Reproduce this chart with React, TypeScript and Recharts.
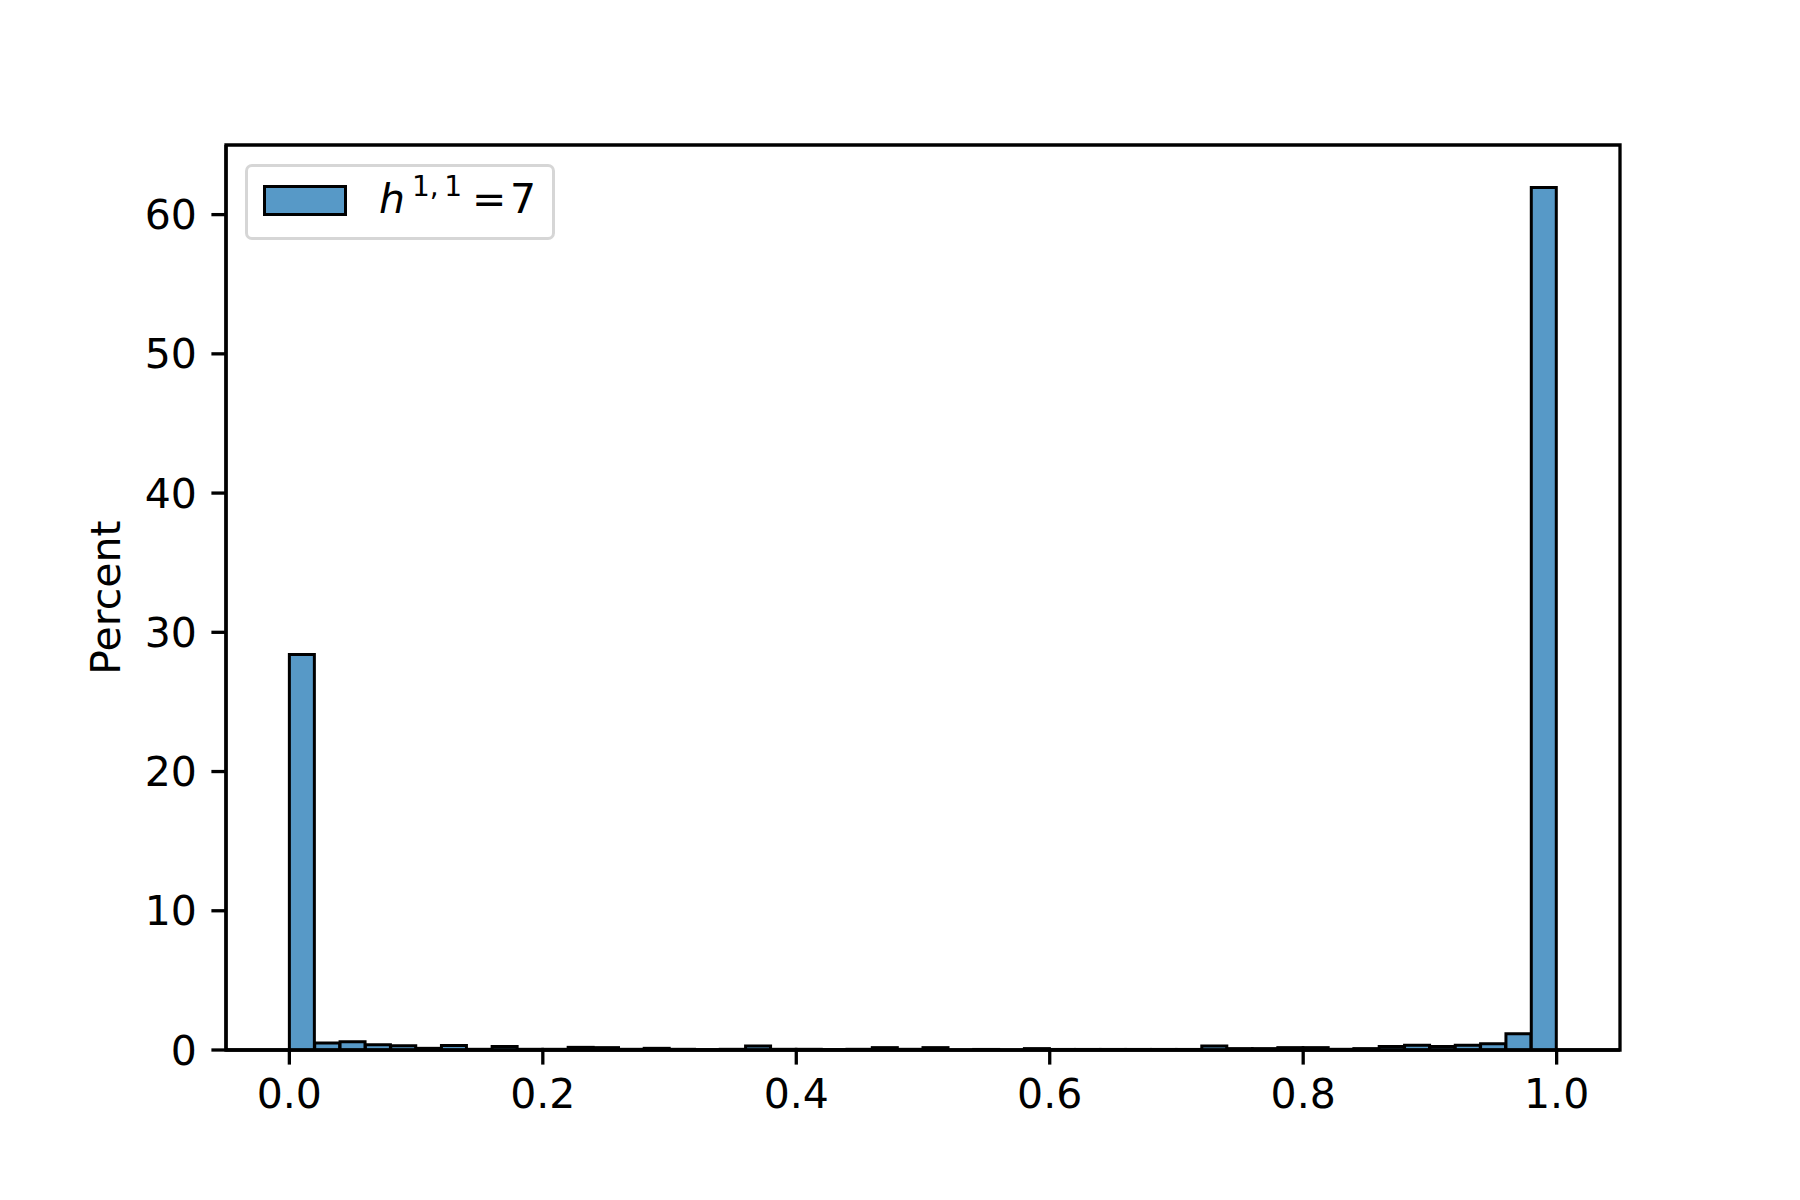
import { BarChart, Bar, XAxis, YAxis, ReferenceArea, Legend } from 'recharts';

// histogram bins, 0.02 wide, keyed by bin centre
const binCenters = [
  0.01, 0.03, 0.05, 0.07, 0.09, 0.11, 0.13, 0.15, 0.17, 0.19,
  0.21, 0.23, 0.25, 0.27, 0.29, 0.31, 0.33, 0.35, 0.37, 0.39,
  0.41, 0.43, 0.45, 0.47, 0.49, 0.51, 0.53, 0.55, 0.57, 0.59,
  0.61, 0.63, 0.65, 0.67, 0.69, 0.71, 0.73, 0.75, 0.77, 0.79,
  0.81, 0.83, 0.85, 0.87, 0.89, 0.91, 0.93, 0.95, 0.97, 0.99,
];

const percents = [
  28.4, 0.5, 0.6, 0.38, 0.31, 0.12, 0.33, 0.05, 0.26, 0.05,
  0.05, 0.19, 0.17, 0.05, 0.12, 0.05, 0.02, 0.05, 0.29, 0.05,
  0.05, 0.03, 0.05, 0.17, 0.05, 0.17, 0, 0.04, 0, 0.1,
  0.04, 0.04, 0.04, 0.04, 0.04, 0.04, 0.28, 0.1, 0.1, 0.17,
  0.17, 0.05, 0.1, 0.25, 0.35, 0.26, 0.35, 0.45, 1.17, 61.95,
];

const xTicks = [0, 0.2, 0.4, 0.6, 0.8, 1.0];
const yTicks = [0, 10, 20, 30, 40, 50, 60];

const data = binCenters.map((x, i) => ({ x, pct: percents[i] }));

const W = 1800;
const H = 1200;
const LEFT = 226;
const RIGHT = 180;
const TOP = 145;
const XAXIS_H = 150;

const font = 'DejaVu Sans, sans-serif';
const fs = 41;
const lw = 3.3;

function LegendBox() {
  return (
    <div
      style={{
        width: 304,
        height: 70,
        border: '3px solid #d6d6d6',
        borderRadius: 7,
        background: '#fff',
        position: 'relative',
        fontFamily: font,
        fontSize: fs,
        color: '#000',
      }}
    >
      <div
        style={{
          position: 'absolute',
          left: 15,
          top: 18,
          width: 78,
          height: 25,
          background: '#5799c7',
          border: '3px solid #000',
        }}
      />
      <span style={{ position: 'absolute', left: 131, top: 12, lineHeight: '41px', fontStyle: 'italic' }}>h</span>
      <span style={{ position: 'absolute', left: 164, top: 5, lineHeight: '29px', fontSize: 28, whiteSpace: 'nowrap' }}>
        1,&#8201;1
      </span>
      <span style={{ position: 'absolute', left: 224, top: 12, lineHeight: '41px' }}>=</span>
      <span style={{ position: 'absolute', left: 262, top: 12, lineHeight: '41px' }}>7</span>
    </div>
  );
}

export default function App() {
  return (
    <div style={{ position: 'absolute', left: 0, top: 0, width: W, height: H, background: '#fff' }}>
      <BarChart
        width={W}
        height={H}
        data={data}
        margin={{ top: TOP, right: RIGHT, bottom: 0, left: 0 }}
        barCategoryGap={0}
        barGap={0}
      >
        <XAxis
          dataKey="x"
          type="number"
          domain={[-0.05, 1.05]}
          ticks={xTicks}
          tickFormatter={(v: number) => v.toFixed(1)}
          allowDataOverflow
          height={XAXIS_H}
          axisLine={{ stroke: '#000', strokeWidth: lw }}
          tickLine={{ stroke: '#000', strokeWidth: lw }}
          tickSize={14.6}
          tickMargin={14.6}
          tick={{ fill: '#000', fontSize: fs, fontFamily: font }}
        />
        <YAxis
          type="number"
          domain={[0, 65]}
          ticks={yTicks}
          allowDataOverflow
          width={LEFT}
          axisLine={{ stroke: '#000', strokeWidth: lw }}
          tickLine={{ stroke: '#000', strokeWidth: lw }}
          tickSize={14.6}
          tickMargin={14.6}
          tick={{ fill: '#000', fontSize: fs, fontFamily: font }}
          label={{
            value: 'Percent',
            angle: -90,
            position: 'center',
            dx: -8,
            style: { fill: '#000', fontSize: fs, fontFamily: font },
          }}
        />
        <Bar
          dataKey="pct"
          fill="#5799c7"
          stroke="#000"
          strokeWidth={3}
          isAnimationActive={false}
        />
        <ReferenceArea
          x1={-0.05}
          x2={1.05}
          y1={0}
          y2={65}
          fill="none"
          fillOpacity={0}
          stroke="#000"
          strokeWidth={lw}
          ifOverflow="visible"
        />
        <Legend
          layout="horizontal"
          verticalAlign="middle"
          align="center"
          content={() => <LegendBox />}
          wrapperStyle={{ left: 245, top: 164, width: 310, height: 76 }}
        />
      </BarChart>
    </div>
  );
}
